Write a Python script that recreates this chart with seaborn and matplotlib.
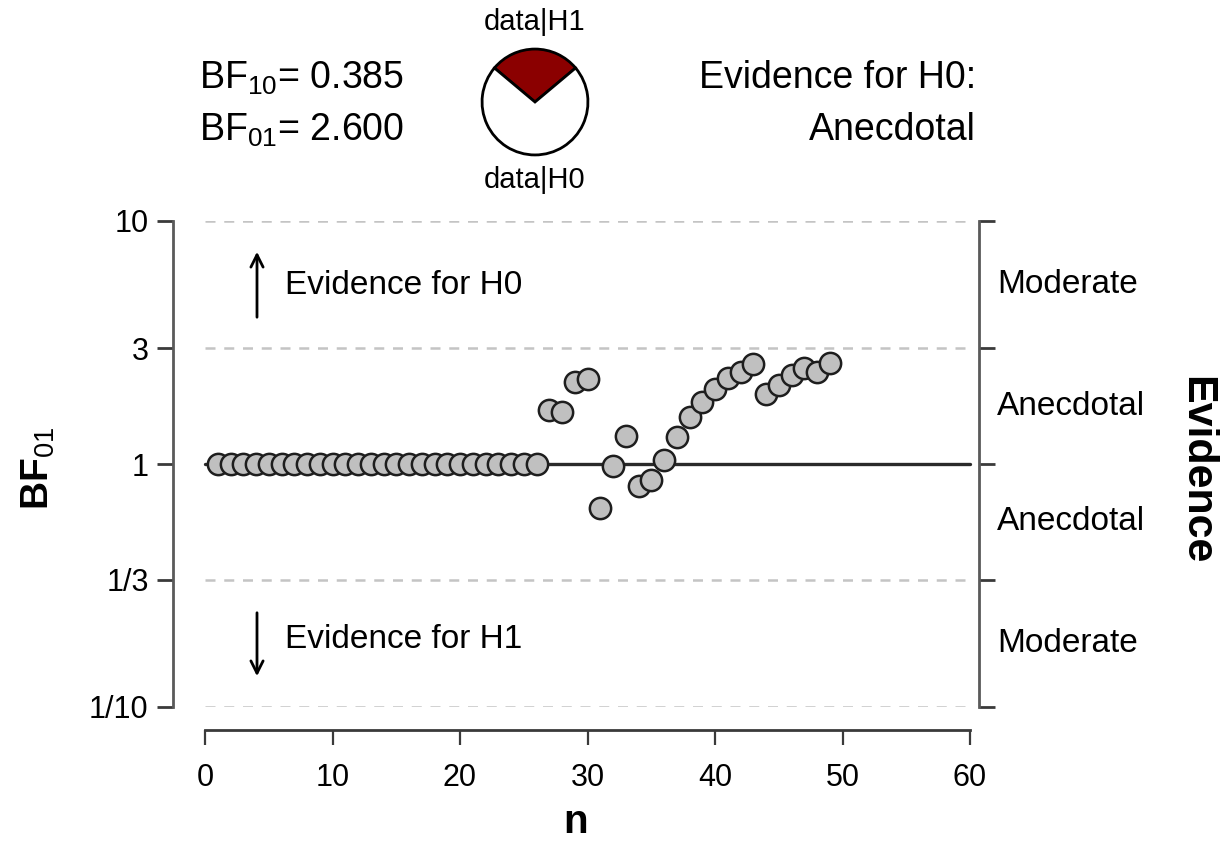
import matplotlib
matplotlib.use("Agg")
import matplotlib.pyplot as plt
import seaborn as sns
import numpy as np
import pandas as pd

# ---- data ----
n_obs = list(range(1, 50))
bf01 = [1.0, 1.0, 1.0, 1.0, 1.0, 1.0, 1.0, 1.0, 1.0, 1.0,
        1.0, 1.0, 1.0, 1.0, 1.0, 1.0, 1.0, 1.0, 1.0, 1.0,
        1.0, 1.0, 1.0, 1.0, 1.0, 1.0,
        1.67, 1.64, 2.17, 2.24, 0.66, 0.98, 1.30, 0.81, 0.86, 1.04,
        1.29, 1.56, 1.80, 2.03, 2.25, 2.39, 2.58, 1.94, 2.11, 2.32,
        2.49, 2.40, 2.60]
bf10_final = 0.385
bf01_final = 2.600
ytick_vals = [0.1, 1/3, 1, 3, 10]
ytick_labels = ["1/10", "1/3", "1", "3", "10"]
xtick_vals = [0, 10, 20, 30, 40, 50, 60]
dashed_levels = [0.1, 1/3, 3, 10]
evidence_labels = ["Moderate", "Anecdotal", "Anecdotal", "Moderate"]
evidence_pos = [np.sqrt(3*10), np.sqrt(3), 1/np.sqrt(3), np.sqrt(0.1/3)]

sns.set_theme(style="white")
plt.rcParams['font.family'] = ['Liberation Sans', 'DejaVu Sans']
plt.rcParams['mathtext.fontset'] = 'custom'
plt.rcParams['mathtext.rm'] = 'Liberation Sans'
plt.rcParams['mathtext.it'] = 'Liberation Sans'
plt.rcParams['mathtext.bf'] = 'Liberation Sans:bold'
plt.rcParams['text.color'] = 'black'

W, H = 1232, 842
fig = plt.figure(figsize=(W/100, H/100), dpi=100)
fig.patch.set_facecolor('white')

def px(x0, y0, x1, y1):
    return [x0/W, 1 - y1/H, (x1-x0)/W, (y1-y0)/H]

ax = fig.add_axes(px(173, 221, 979, 707))
ppu = (970-205)/60.0
ax.set_xlim(0 - (205-173)/ppu, 60 + (979-970)/ppu)
ax.set_yscale('log')
ax.set_ylim(0.1, 10)

df = pd.DataFrame({"n": n_obs, "BF01": bf01})

for lv in dashed_levels:
    ax.plot([0, 60], [lv, lv], color='#c4c4c4', lw=1.8, ls=(0, (4, 3.5)), zorder=1)
ax.plot([0, 60], [1, 1], color='#2a2a2a', lw=2.4, zorder=2)

sns.scatterplot(data=df, x="n", y="BF01", ax=ax, s=235, color='#c0c0c0',
                edgecolor='#1e1e1e', linewidth=1.8, zorder=3, legend=False)

ax.set_yticks(ytick_vals)
ax.set_yticklabels(ytick_labels)
ax.minorticks_off()
ax.set_xticks(xtick_vals)
ax.set_xticklabels([str(v) for v in xtick_vals])

ax.spines['top'].set_visible(False)
for s in ['left', 'right', 'bottom']:
    ax.spines[s].set_visible(True)
    ax.spines[s].set_color('#5a5a5a')
    ax.spines[s].set_linewidth(2.0)
ax.spines['bottom'].set_position(('outward', 16.5))
ax.spines['bottom'].set_bounds(0, 60)
ax.spines['bottom'].set_color('#3a3a3a')

ax.tick_params(axis='y', which='both', left=True, right=True, labelright=False,
               direction='out', length=11.5, width=2.0, color='#3a3a3a',
               labelsize=22, pad=6, labelcolor='black')
ax.tick_params(axis='x', which='both', bottom=True, direction='out', length=11,
               width=1.6, color='#3a3a3a', labelsize=22, pad=13, labelcolor='black')
ax.set_xlabel("")
ax.set_ylabel("")

fig.text(576/W, 1 - 822/H, "n", fontsize=29, fontweight='bold', va='center', ha='center')
fig.text(38/W, 1 - 468/H, r"$\mathbf{BF}_{\mathrm{01}}$", fontsize=28, rotation=90,
         va='center', ha='center')

# arrows and evidence text
x_arrow = (257-205)/ppu
ax.annotate("", xy=(x_arrow, 10**((464-249)/243)), xytext=(x_arrow, 10**((464-320)/243)),
            arrowprops=dict(arrowstyle='->', color='black', lw=2.0, mutation_scale=22),
            annotation_clip=False)
ax.annotate("", xy=(x_arrow, 10**((464-679)/243)), xytext=(x_arrow, 10**((464-610)/243)),
            arrowprops=dict(arrowstyle='->', color='black', lw=2.0, mutation_scale=22),
            annotation_clip=False)
ax.text((285-205)/ppu, 10**((464-286)/243), "Evidence for H0", fontsize=24,
        va='center', ha='left')
ax.text((285-205)/ppu, 10**((464-640)/243), "Evidence for H1", fontsize=24,
        va='center', ha='left')

# right side labels
for lab, yv in zip(evidence_labels, evidence_pos):
    ax.text((997-173)/(979-173), yv, lab, transform=ax.get_yaxis_transform(), fontsize=24,
            va='center', ha='left')
fig.text(1196/W, 1 - 470/H, "Evidence", rotation=-90, fontsize=31, fontweight='bold',
         va='center', ha='center')

# top annotations
fig.text(199/W, 1 - 78/H, r"BF$_{10}$= %.3f" % bf10_final, fontsize=27, va='center', ha='left')
fig.text(199/W, 1 - 130/H, r"BF$_{01}$= %.3f" % bf01_final, fontsize=27, va='center', ha='left')
fig.text(976/W, 1 - 78/H, "Evidence for H0:", fontsize=27, va='center', ha='right')
fig.text(976/W, 1 - 130/H, "Anecdotal", fontsize=27, va='center', ha='right')
fig.text(535/W, 1 - 22/H, "data|H1", fontsize=21, va='center', ha='center')
fig.text(535/W, 1 - 180/H, "data|H0", fontsize=21, va='center', ha='center')

pax = fig.add_axes(px(481, 48, 589, 156))
p1 = bf10_final / (1 + bf10_final)
p0 = 1 - p1
pax.pie([p1, p0], colors=['#8b0000', 'white'], startangle=90 - p1*180,
        counterclock=True, wedgeprops=dict(edgecolor='black', linewidth=2.0))
pax.set_xlim(-1.02, 1.02)
pax.set_ylim(-1.02, 1.02)
pax.set_aspect('equal')

fig.savefig("out.png", dpi=100, facecolor='white')
